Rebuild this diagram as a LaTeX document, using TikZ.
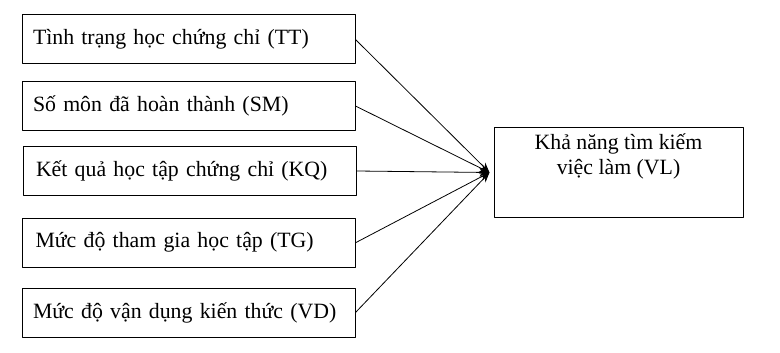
\documentclass[tikz,border=0pt]{standalone}
\usepackage{fontspec}
\setmainfont{Liberation Serif}
\usetikzlibrary{arrows.meta}

\begin{document}
\begin{tikzpicture}[x=1pt, y=-1pt, >={Stealth[length=10pt,width=8pt]}, font=\fontsize{21.8}{25}\selectfont, line join=round, line cap=round,
	hop/.style={draw, line width=1pt, minimum width=333pt, minimum height=49pt, text width=311pt, inner xsep=11pt, inner ysep=0pt, align=left},
	hopvl/.style={draw, line width=1pt, minimum width=249pt, minimum height=89pt}]
	\useasboundingbox (0,0) rectangle (780,353);
	
	% [Các nhân tố]
	\node[hop] (tt) at (188.5,39.5) {Tình trạng học chứng chỉ (TT)};
	\node[hop] (sm) at (188.5,106) {Số môn đã hoàn thành (SM)};
	\node[hop] (kq) at (189.5,171) {\hspace*{2pt}Kết quả học tập chứng chỉ (KQ)};
	\node[hop] (tg) at (189,242.5) {\hspace*{2pt}Mức độ tham gia học tập (TG)};
	\node[hop] (vd) at (188.5,312.5) {Mức độ vận dụng kiến thức (VD)};
	
	% [Biến phụ thuộc]
	\node[hopvl] (vl) at (618.5,172.5) {};
	\node[align=center] (vltext) at (618.5,156) {Khả năng tìm kiếm\\việc làm (VL)};
	\coordinate (tip) at ([xshift=-4]vl.west);
	
	% [Mũi tên]
	\foreach \n in {tt,sm,kq,tg,vd}
		\draw[->, line width=0.8pt] (\n.east) -- (tip);
\end{tikzpicture}
\end{document}
